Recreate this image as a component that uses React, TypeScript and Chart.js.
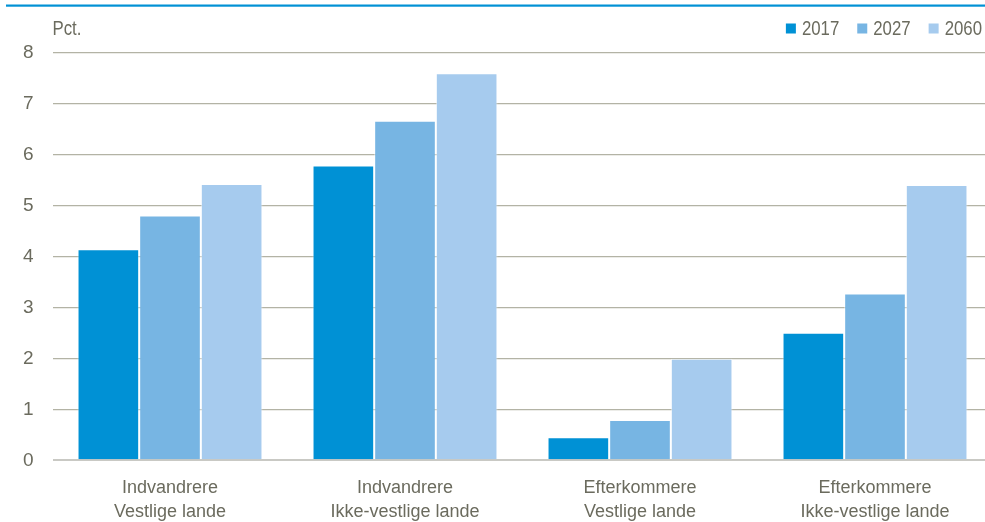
import React, { useEffect, useRef } from "react";
import { Chart, registerables } from "chart.js";

Chart.register(...registerables);

const categories: string[][] = [
  ["Indvandrere", "Vestlige lande"],
  ["Indvandrere", "Ikke-vestlige lande"],
  ["Efterkommere", "Vestlige lande"],
  ["Efterkommere", "Ikke-vestlige lande"],
];
const seriesNames = ["2017", "2027", "2060"];
const values2017 = [4.14, 5.78, 0.45, 2.5];
const values2027 = [4.8, 6.66, 0.79, 3.27];
const values2060 = [5.42, 7.59, 1.99, 5.4];
const seriesColors = ["#0091D5", "#77B5E3", "#A6CBEE"];
const yTicks = [0, 1, 2, 3, 4, 5, 6, 7, 8];
const unitLabel = "Pct.";

const FONT = "'Liberation Sans Narrow', 'Arial Narrow', 'Liberation Sans', Arial, sans-serif";
const TEXT = "#6b6b5e";

export default function App() {
  const ref = useRef<HTMLCanvasElement | null>(null);
  useEffect(() => {
    if (!ref.current) return;
    const deco = {
      id: "deco",
      afterDraw(chart: any) {
        const ctx = chart.ctx as CanvasRenderingContext2D;
        const area = chart.chartArea;
        ctx.save();
        // top rule
        ctx.fillStyle = "#0091D5";
        ctx.fillRect(6, 4.5, 979, 2.2);
        ctx.font = `20px ${FONT}`;
        ctx.textBaseline = "alphabetic";
        ctx.textAlign = "left";
        const sx = 0.84;
        // unit label
        ctx.save();
        ctx.translate(area.left, 35);
        ctx.scale(sx, 1);
        ctx.fillStyle = TEXT;
        ctx.fillText(unitLabel, 0, 0);
        ctx.restore();
        // legend
        let x = 982;
        const ds = chart.data.datasets;
        for (let i = ds.length - 1; i >= 0; i--) {
          const label = ds[i].label as string;
          const w = ctx.measureText(label).width * sx;
          ctx.save();
          ctx.translate(x - w, 35);
          ctx.scale(sx, 1);
          ctx.fillStyle = TEXT;
          ctx.fillText(label, 0, 0);
          ctx.restore();
          const bx = x - w - 6 - 10;
          ctx.fillStyle = ds[i].backgroundColor as string;
          ctx.fillRect(bx, 23.5, 10, 10);
          x = bx - 18;
        }
        ctx.restore();
      },
    };
    const chart = new Chart(ref.current, {
      type: "bar",
      data: {
        labels: categories,
        datasets: [values2017, values2027, values2060].map((v, i) => ({
          label: seriesNames[i],
          data: v,
          backgroundColor: seriesColors[i],
          borderColor: "rgba(255,255,255,0.55)",
          borderWidth: 1,
          categoryPercentage: 0.787,
          barPercentage: 1,
        })),
      },
      options: {
        animation: false,
        responsive: true,
        maintainAspectRatio: false,
        layout: { padding: { left: 0, right: 7.5, top: 52.3, bottom: 0 } },
        plugins: { legend: { display: false }, tooltip: { enabled: false }, title: { display: false } },
        scales: {
          x: {
            grid: { display: false },
            border: { display: false },
            ticks: { color: TEXT, font: { family: FONT, size: 18, lineHeight: 1.333 }, padding: 8, maxRotation: 0, autoSkip: false },
            afterFit(scale: any) {
              scale.height = 522 - 460.3;
            },
          },
          y: {
            min: 0,
            max: 8,
            afterBuildTicks(scale: any) {
              scale.ticks = yTicks.map((v) => ({ value: v }));
            },
            grid: {
              drawTicks: false,
              color: (c: any) => (c.tick && c.tick.value === 0 ? "#c9c9c4" : "#b3b3a5"),
              lineWidth: (c: any) => (c.tick && c.tick.value === 0 ? 2 : 1.3),
            },
            border: { display: false },
            ticks: { color: TEXT, font: { family: FONT, size: 19 }, padding: 19 },
            afterFit(scale: any) {
              scale.width = 52.5;
            },
          },
        },
      },
      plugins: [deco],
    });
    return () => chart.destroy();
  }, []);
  return (
    <div style={{ position: "fixed", left: 0, top: 0, width: 985, height: 522, overflow: "hidden", background: "#fff" }}>
      <div style={{ position: "relative", width: 1000, height: 522 }}>
        <canvas ref={ref} />
      </div>
    </div>
  );
}
